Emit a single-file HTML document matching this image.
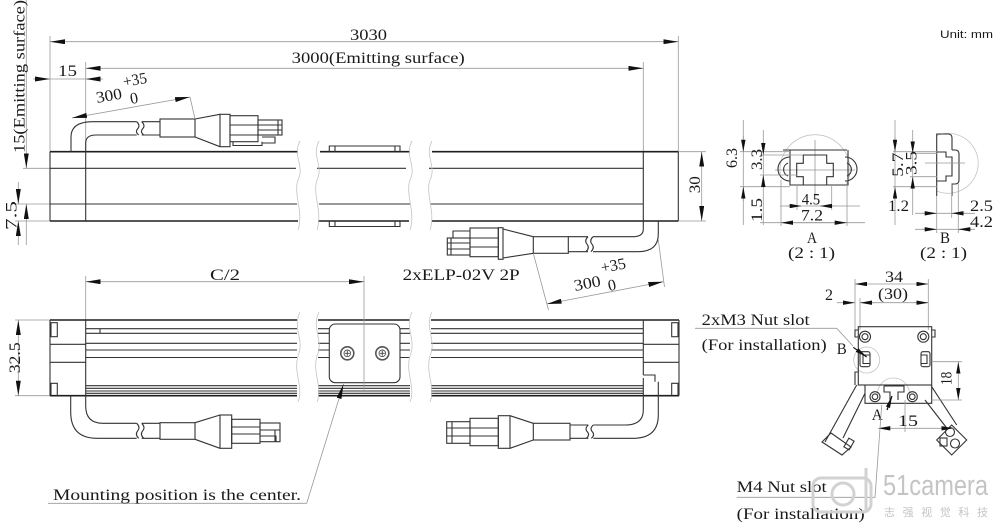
<!DOCTYPE html>
<html><head><meta charset="utf-8"><style>
html,body{margin:0;padding:0;background:#fff;width:1000px;height:527px;overflow:hidden}
svg{display:block}
text{font-family:"Liberation Serif","Noto Serif CJK SC",serif;font-size:16px;fill:#1a1a1a}
.d{stroke:#999;stroke-width:.8;fill:none}
.m{stroke:#333;stroke-width:1.1;fill:none}
.t{stroke:#1e1e1e;stroke-width:1.6;fill:none}
.b{stroke:#c4c4c4;stroke-width:.8;fill:none}
.w{fill:#fff;stroke:#333;stroke-width:1.1}
</style></head><body>
<svg xmlns="http://www.w3.org/2000/svg" width="1000" height="527" viewBox="0 0 1000 527">
<defs>
<marker id="a" viewBox="0 0 15 5" refX="15" refY="2.5" markerWidth="15" markerHeight="5" markerUnits="userSpaceOnUse" orient="auto-start-reverse"><path d="M0,0L15,2.5L0,5z" fill="#111"/></marker>
<marker id="s" viewBox="0 0 12 4.4" refX="12" refY="2.2" markerWidth="12" markerHeight="4.4" markerUnits="userSpaceOnUse" orient="auto-start-reverse"><path d="M0,0L12,2.2L0,4.4z" fill="#111"/></marker>
</defs>

<!-- ================= TOP VIEW ================= -->
<path class="d" d="M50,36V151.7M678.3,36V151.7M85.7,62V151.7M643.3,62V151.7"/>
<path class="d" d="M50,41.7H678.3" marker-start="url(#a)" marker-end="url(#a)"/>
<text x="350" y="40" textLength="37" lengthAdjust="spacingAndGlyphs">3030</text>
<path class="d" d="M85.7,68.3H643.3" marker-start="url(#a)" marker-end="url(#a)"/>
<text x="291.7" y="63" textLength="173" lengthAdjust="spacingAndGlyphs">3000(Emitting surface)</text>
<path class="d" d="M50,79H85.7"/>
<path class="d" d="M33,79H50" marker-end="url(#a)"/>
<path class="d" d="M103,79H85.7" marker-end="url(#a)"/>
<text x="58" y="76" textLength="19" lengthAdjust="spacingAndGlyphs">15</text>

<path class="d" d="M26.3,0V168.3" marker-end="url(#a)"/>
<path class="d" d="M26.3,245V204" marker-end="url(#a)"/>
<path class="d" d="M18.3,182V204" marker-end="url(#a)"/>
<path class="d" d="M18.3,245V221" marker-end="url(#a)"/>
<path class="d" d="M23,168.3H50M15,204H50M15,221H50"/>
<text transform="translate(24.5,153) rotate(-90)" textLength="153" lengthAdjust="spacingAndGlyphs">15(Emitting surface)</text>
<text transform="translate(16.5,230) rotate(-90)" textLength="29" lengthAdjust="spacingAndGlyphs">7.5</text>

<path class="d" d="M678.3,151.7H706M678.3,221H706"/>
<path class="d" d="M701.7,151.7V221" marker-start="url(#a)" marker-end="url(#a)"/>
<text transform="translate(700,193.3) rotate(-90)" textLength="17" lengthAdjust="spacingAndGlyphs">30</text>

<path class="t" d="M50,151.7H298M50,221H298M320,151.7H410M318,221H409M432,151.7H678.3M432,221H678.3"/>
<path class="m" d="M50,168.3H296M50,204H297M50,151.7V221M85.7,151.7V221"/>
<path class="m" d="M317,168.3H406M319,204H410"/>
<path class="m" d="M429,168.3H643.3M430,204H643.3M643.3,151.7V221M678.3,151.7V221"/>
<path class="m" d="M329.3,151.7V146H400V151.7M335,146V151.7M395,146V151.7M329.3,221V226.5H400V221M335,221V226.5M395,221V226.5"/>
<path class="b" d="M300,141C292,156 305,166 298,180C293,194 304,212 298,230"/>
<path class="b" d="M319,141C311,156 324,166 317,180C312,194 323,212 317,230"/>
<path class="b" d="M412,141C404,156 417,166 410,180C405,194 416,212 410,230"/>
<path class="b" d="M432,141C424,156 437,166 430,180C425,194 436,212 430,230"/>

<path class="m" d="M71,151.7V137Q71,121.7 93,121.7H136.7M85.7,151.7V143Q85.7,135 96,135H136.7"/>
<path class="m" d="M136.7,121.7q4,4 1,7q-3,3 1,6.3M141.7,121.7q4,4 1,7q-3,3 1,6.3M141.7,121.7H160M141.7,135H160"/>
<rect class="m" x="160" y="119" width="35" height="18"/>
<path class="m" d="M195,119L220,114.3M195,137L220,146.7"/>
<rect class="m" x="220" y="114.3" width="10" height="32.4"/>
<rect class="m" x="230" y="115.7" width="28" height="26"/>
<path class="m" d="M230,125H258M230,135H258"/>
<rect class="m" x="258" y="120" width="24" height="15"/>
<path class="m" d="M258,125H282M258,130H282M278,120V135"/>
<path class="m" d="M233,141.7V145.5H262V141.7M262,137H275V143H262"/>
<path class="d" d="M72,118L190,97" marker-start="url(#a)" marker-end="url(#a)"/>
<path class="d" d="M190,97L195,119"/>
<text transform="translate(97,103) rotate(-10)" textLength="26" lengthAdjust="spacingAndGlyphs">300</text>
<text transform="translate(124,87) rotate(-10)" textLength="24" lengthAdjust="spacingAndGlyphs">+35</text>
<text transform="translate(131,104) rotate(-10)">0</text>

<path class="m" d="M658.3,221V234Q658.3,251.7 638,251.7H593M643.3,221V229Q643.3,236.7 633,236.7H593"/>
<path class="m" d="M593,236.7q-4,4 -1,7.5q3,3.5 -1,7.5M588,236.7q-4,4 -1,7.5q3,3.5 -1,7.5M568.3,236.7H588M568.3,251.7H588"/>
<rect class="m" x="533.3" y="236.7" width="35" height="16.6"/>
<path class="m" d="M503,229L533.3,236.7M503,258L533.3,253.3"/>
<rect class="m" x="498.3" y="227.7" width="4.7" height="31.6"/>
<rect class="m" x="470" y="228" width="28.3" height="28.7"/>
<path class="m" d="M470,238H498.3M470,247H498.3"/>
<rect class="m" x="447.3" y="238" width="22.7" height="17"/>
<path class="m" d="M447.3,243H470M447.3,249H470M451,238V255M453,238V231H470"/>
<path class="d" d="M546.7,304L663.3,281.7" marker-start="url(#a)" marker-end="url(#a)"/>
<path class="d" d="M533.3,253.3L548.5,310M658.3,240L664.5,287"/>
<text transform="translate(575,291) rotate(-11)" textLength="27" lengthAdjust="spacingAndGlyphs">300</text>
<text transform="translate(602,273) rotate(-11)" textLength="25" lengthAdjust="spacingAndGlyphs">+35</text>
<text transform="translate(609,291) rotate(-11)">0</text>
<text x="402.7" y="280" textLength="117" lengthAdjust="spacingAndGlyphs">2xELP-02V 2P</text>

<!-- ================= BOTTOM VIEW ================= -->
<path class="d" d="M85.7,281.7H364" marker-start="url(#a)" marker-end="url(#a)"/>
<path class="d" d="M85.7,276V320"/>
<text x="210" y="280" textLength="30" lengthAdjust="spacingAndGlyphs">C/2</text>
<path class="d" d="M18.3,320V395.7" marker-start="url(#a)" marker-end="url(#a)"/>
<path class="d" d="M15,320H50M15,395.7H50"/>
<text transform="translate(20,373.3) rotate(-90)" textLength="31" lengthAdjust="spacingAndGlyphs">32.5</text>

<path class="m" d="M100,328.7H297M85.7,333.3H297M85.7,343.3H297M85.7,350H297M85.7,357.5H297M85.7,385.7H297M85.7,388.3H297M85.7,391H297M85.7,393.3H297M85.7,328.7H100V333.3"/>
<path class="t" d="M50,320H297M50,395.7H297"/>
<path class="m" d="M50,320V395.7M85.7,320V395.7M50,344.3H85.7M50,362.3H85.7M51,395.7V383.3H57.3V395.7"/>
<rect class="m" x="51" y="322.7" width="6.3" height="14"/>
<path class="m" d="M318,328.7H410M318,333.3H410M318,343.3H410M318,350H410M318,357.5H410M318,385.7H410M318,388.3H410M318,391H410M318,393.3H410"/>
<path class="t" d="M318,320H410M318,395.7H410"/>
<path class="m" d="M431,328.7H630M431,333.3H643.3M431,343.3H643.3M431,350H643.3M431,357.5H643.3M431,385.7H643.3M431,388.3H643.3M431,391H643.3M431,393.3H643.3M630,328.7H643.3"/>
<path class="t" d="M431,320H679M431,395.7H679"/>
<path class="m" d="M643.3,320V375M679,320V395.7M643.3,344.3H679M643.3,362.3H679M671.7,395.7V383.3H678V395.7M643.3,375H655V381.7"/>
<rect class="m" x="671.7" y="322.7" width="6.3" height="14"/>
<path class="b" d="M300,312C292,328 305,340 298,356C293,372 304,388 298,402"/>
<path class="b" d="M319,312C311,328 324,340 317,356C312,372 323,388 317,402"/>
<path class="b" d="M412,312C404,328 417,340 410,356C405,372 416,388 410,402"/>
<path class="b" d="M432,312C424,328 437,340 430,356C425,372 436,388 430,402"/>

<rect class="w" x="329.3" y="324" width="70.7" height="58.7" rx="6"/>
<circle cx="347.3" cy="353.3" r="6.5" fill="#fff" stroke="#555" stroke-width="1.6"/>
<circle cx="347.3" cy="353.3" r="3.3" fill="none" stroke="#555" stroke-width="0.9"/>
<path d="M344.8,353.3H349.8M347.3,350.8V355.8" stroke="#444" stroke-width="0.9"/>
<circle cx="382.3" cy="353.3" r="6.5" fill="#fff" stroke="#555" stroke-width="1.6"/>
<circle cx="382.3" cy="353.3" r="3.3" fill="none" stroke="#555" stroke-width="0.9"/>
<path d="M379.8,353.3H384.8M382.3,350.8V355.8" stroke="#444" stroke-width="0.9"/>
<path class="d" d="M364,276V392"/>
<path class="d" d="M306.7,503.3L343.5,384" marker-end="url(#a)"/>
<path class="d" d="M48,503.3H306.7"/>
<text x="53" y="500" textLength="248" lengthAdjust="spacingAndGlyphs">Mounting position is the center.</text>

<path class="m" d="M70.7,395.7V412Q70.7,438.3 97,438.3H136.7M85.7,395.7V406Q85.7,423.3 103,423.3H136.7"/>
<path class="m" d="M136.7,423.3q4,4 1,7.5q-3,3.5 1,7.5M141.7,423.3q4,4 1,7.5q-3,3.5 1,7.5M141.7,423.3H160M141.7,438.3H160"/>
<rect class="m" x="160" y="422.7" width="35" height="16.6"/>
<path class="m" d="M195,422.7L220,415M195,439.3L220,448.3"/>
<rect class="m" x="220" y="415" width="11.7" height="33.3"/>
<rect class="m" x="231.7" y="419.3" width="28.3" height="24"/>
<path class="m" d="M231.7,427H260M231.7,434H260"/>
<rect class="m" x="260" y="423" width="20" height="18.7"/>
<path class="m" d="M260,430H280M260,436H276V441.7M275,430V441.7"/>

<path class="m" d="M643.3,378V410Q643.3,425 625,425H593.3M658.3,381.7V415Q658.3,438.3 633,438.3H593.3"/>
<path class="m" d="M593.3,425q-4,3.5 -1,6.7q3,3.3 -1,6.6M588.3,425q-4,3.5 -1,6.7q3,3.3 -1,6.6M570,425H588.3M570,438.3H588.3"/>
<rect class="m" x="533.3" y="423.3" width="36.7" height="16.7"/>
<path class="m" d="M510,415.7L533.3,423.3M510,448.3L533.3,440"/>
<rect class="m" x="498.3" y="415.7" width="11.7" height="32.6"/>
<rect class="m" x="470" y="418.3" width="28.3" height="27.4"/>
<path class="m" d="M470,428H498.3M470,436H498.3"/>
<rect class="m" x="446.7" y="421.7" width="23.3" height="21.6"/>
<path class="m" d="M446.7,428H470M446.7,436H470M452,421.7V443.3"/>

<!-- ================= DETAIL A ================= -->
<path class="b" d="M781,178A35,35 0 1 1 849,178"/>
<path class="d" d="M815,140V200M775,170H855"/>
<path class="m" d="M783,150H847M790,150V185H848V150"/>
<path class="m" d="M790,157A12,12 0 0 0 790,181M788,163A7,7 0 0 0 788,176M845,157A12,12 0 0 1 845,181M847,163A7,7 0 0 1 847,176"/>
<path class="m" d="M803.3,185V176.7H796.7V163.3H803.3V155H826.7V163.3H833.3V176.7H826.7V185"/>
<path class="d" d="M743.3,120V225M763.3,130V225M740,151.7H790M760,155H803M760,175H797M740,186.7H790M797,185V210M831.7,185V210M781,180V226M847,180V226"/>
<path class="d" d="M743.3,136V151.7" marker-end="url(#s)"/>
<path class="d" d="M743.3,201V186.7" marker-end="url(#s)"/>
<path class="d" d="M763.3,142V155" marker-end="url(#s)"/>
<path class="d" d="M763.3,188V175" marker-end="url(#s)"/>
<text transform="translate(737,168) rotate(-90)" textLength="20" lengthAdjust="spacingAndGlyphs">6.3</text>
<text transform="translate(762,170) rotate(-90)" textLength="21" lengthAdjust="spacingAndGlyphs">3.3</text>
<text transform="translate(762,222) rotate(-90)" textLength="24" lengthAdjust="spacingAndGlyphs">1.5</text>
<path class="d" d="M780,206H860M760,222.7H865"/>
<path class="d" d="M786.7,206H801.7" marker-end="url(#s)"/>
<path class="d" d="M835,206H820" marker-end="url(#s)"/>
<path class="d" d="M781,222.7H846.7" marker-start="url(#s)" marker-end="url(#s)"/>
<text x="801.7" y="204.5" textLength="18.5" lengthAdjust="spacingAndGlyphs">4.5</text>
<text x="801" y="220.5" textLength="22" lengthAdjust="spacingAndGlyphs">7.2</text>
<text x="807" y="243" textLength="10" lengthAdjust="spacingAndGlyphs">A</text>
<text x="788" y="258" textLength="47" lengthAdjust="spacingAndGlyphs">(2 : 1)</text>

<!-- ================= DETAIL B ================= -->
<path class="b" d="M936.7,135.6A30,30 0 1 1 936.7,191"/>
<path class="m" d="M936.7,196V134H948Q952,134 952,138V150M952,150H955Q959,150 959,154V180Q959,184 955,184H952V196"/>
<path class="m" d="M936.7,152H946V157H952V176H946V181H936.7"/>
<path class="d" d="M895,120V225M912.7,130V215M893,151.7H937M910,153.3H937M910,176.7H937M893,186.7H937M936.7,196V233M951.7,184V218M958.3,184V233M925,163H965"/>
<path class="d" d="M895,137V151.7" marker-end="url(#s)"/>
<path class="d" d="M895,201V186.7" marker-end="url(#s)"/>
<path class="d" d="M912.7,141V153.3" marker-end="url(#s)"/>
<path class="d" d="M912.7,189V176.7" marker-end="url(#s)"/>
<text transform="translate(903,176.7) rotate(-90)" textLength="24" lengthAdjust="spacingAndGlyphs">5.7</text>
<text transform="translate(916.7,175) rotate(-90)" textLength="24" lengthAdjust="spacingAndGlyphs">3.5</text>
<text x="888" y="211" textLength="21" lengthAdjust="spacingAndGlyphs">1.2</text>
<path class="d" d="M915,213.3H975M915,229.3H975"/>
<path class="d" d="M922,213.3H936.7" marker-end="url(#s)"/>
<path class="d" d="M966,213.3H951.7" marker-end="url(#s)"/>
<path class="d" d="M922,229.3H936.7" marker-end="url(#s)"/>
<path class="d" d="M972,229.3H958.3" marker-end="url(#s)"/>
<text x="970" y="211" textLength="23" lengthAdjust="spacingAndGlyphs">2.5</text>
<text x="970" y="227" textLength="23" lengthAdjust="spacingAndGlyphs">4.2</text>
<text x="940" y="243" textLength="10" lengthAdjust="spacingAndGlyphs">B</text>
<text x="920" y="258" textLength="47" lengthAdjust="spacingAndGlyphs">(2 : 1)</text>

<!-- ================= END VIEW ================= -->
<path class="d" d="M855,279V330M860,298V330M928.3,279V330"/>
<path class="d" d="M855,284H928.3" marker-start="url(#s)" marker-end="url(#s)"/>
<text x="885" y="282" textLength="18" lengthAdjust="spacingAndGlyphs">34</text>
<path class="d" d="M860,302.7H928.3"/>
<path class="d" d="M875,302.7H860" marker-end="url(#s)"/>
<path class="d" d="M913,302.7H928.3" marker-end="url(#s)"/>
<path class="d" d="M837,302.7H855" marker-end="url(#s)"/>
<text x="878" y="299" textLength="30" lengthAdjust="spacingAndGlyphs">(30)</text>
<text x="825" y="300" textLength="8" lengthAdjust="spacingAndGlyphs">2</text>

<circle class="b" cx="866.7" cy="360" r="13"/>
<path class="b" d="M878,398A16,16 0 1 1 909,398"/>
<rect class="m" x="858.3" y="326.7" width="73.4" height="58.3" fill="#fff"/>
<path class="m" d="M858.3,330H855V337H858.3M858.3,372H855V385M931.7,330H935V337H931.7"/>
<path class="m" d="M865,385V403.3H931.7V385"/>
<circle class="m" cx="865" cy="336.7" r="5.5"/><circle class="m" cx="865" cy="336.7" r="3"/>
<circle class="m" cx="923.3" cy="336.7" r="5.5"/><circle class="m" cx="923.3" cy="336.7" r="3"/>
<circle class="m" cx="875" cy="396.7" r="5"/><circle class="m" cx="875" cy="396.7" r="2.8"/>
<circle class="m" cx="912.3" cy="396.7" r="5"/><circle class="m" cx="912.3" cy="396.7" r="2.8"/>
<rect class="m" x="860" y="351.7" width="10" height="15" rx="2"/>
<path class="m" d="M870,355H863V363.5H870"/>
<rect class="m" x="921" y="351.7" width="9" height="15" rx="2"/>
<path class="m" d="M921,355H927V363.5H921"/>
<path class="m" d="M884,386H904V392H898V400M884,386V392H890V400"/>
<path class="m" d="M856.7,385L825,442M865,393.3L843,438"/>
<path class="m" d="M822,442L831,433L851,447L842,455Z"/>
<rect class="m" x="846" y="439" width="6" height="10" transform="rotate(30 849 444)"/>
<path class="m" d="M931.7,386.7L956.7,425M925,400L946.7,428"/>
<path class="m" d="M936.7,440L951.7,425L966.7,440L951.7,455Z"/>
<circle class="m" cx="950" cy="432" r="4.5"/>
<circle class="m" cx="955" cy="443.5" r="4.5"/>
<rect class="m" x="940" y="438" width="7" height="8"/>

<path class="d" d="M931.7,361.7H962M931.7,400H962"/>
<path class="d" d="M958.3,361.7V400" marker-start="url(#s)" marker-end="url(#s)"/>
<text transform="translate(951.7,385) rotate(-90)" textLength="13.3" lengthAdjust="spacingAndGlyphs">18</text>
<path class="d" d="M905,400V432"/>
<path class="d" d="M878.3,428.3H953.3" marker-start="url(#s)" marker-end="url(#s)"/>
<text x="898" y="426" textLength="20" lengthAdjust="spacingAndGlyphs">15</text>

<path class="d" d="M695,328.3H836.7L853,346"/>
<path d="M853.3,347.3L866.7,357" stroke="#111" stroke-width="1.2" marker-end="url(#s)"/>
<text x="701.7" y="325" textLength="108" lengthAdjust="spacingAndGlyphs">2xM3 Nut slot</text>
<text x="701.7" y="350" textLength="125" lengthAdjust="spacingAndGlyphs">(For installation)</text>
<text x="836.7" y="354" textLength="10" lengthAdjust="spacingAndGlyphs">B</text>
<text x="871.7" y="420" textLength="11" lengthAdjust="spacingAndGlyphs">A</text>
<path d="M887,410L892,396" stroke="#111" stroke-width="1.2" marker-end="url(#s)"/>
<path class="d" d="M736.7,497.3H875L881.7,405"/>
<text x="736.7" y="492" textLength="90" lengthAdjust="spacingAndGlyphs">M4 Nut slot</text>
<text x="736.7" y="519" textLength="128" lengthAdjust="spacingAndGlyphs">(For installation)</text>

<!-- watermark -->
<g fill="none" stroke="#d2d2d2" stroke-width="3">
<rect x="813" y="478" width="58" height="34" rx="8"/>
<circle cx="843" cy="494" r="11"/>
<path d="M866,468V512"/>
</g>
<text transform="translate(883,495) scale(1,1.45)" textLength="105" lengthAdjust="spacingAndGlyphs" style="fill:#c4c4c4;font-family:'Liberation Sans',sans-serif;font-size:20px">51camera</text>
<text x="884" y="516" textLength="104" lengthAdjust="spacing" style="fill:#c4c4c4;font-family:'Liberation Sans','Noto Sans CJK SC',sans-serif;font-size:11px">志强视觉科技</text>

<text x="940" y="38" textLength="53" lengthAdjust="spacingAndGlyphs" style="font-family:'Liberation Sans',sans-serif;font-size:11px">Unit: mm</text>
</svg>
</body></html>
